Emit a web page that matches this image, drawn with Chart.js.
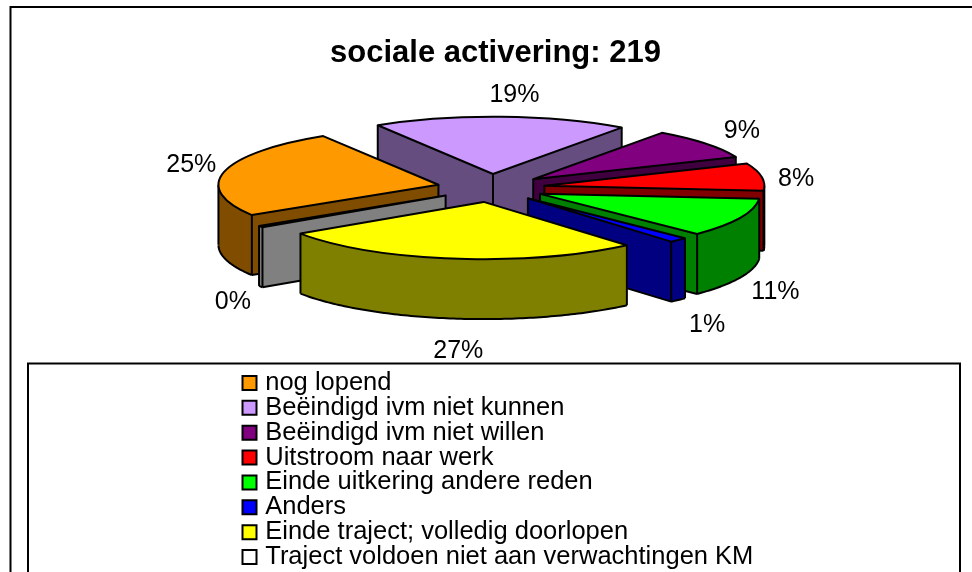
<!DOCTYPE html>
<html>
<head>
<meta charset="utf-8">
<script src="https://cdn.jsdelivr.net/npm/chart.js@4"></script>
<style>html,body{margin:0;padding:0;background:#fff;overflow:hidden}canvas{display:block}</style>
</head>
<body>
<canvas id="c" width="972" height="572"></canvas>
<script>
const titleText = 'sociale activering: 219';
const categories = ['nog lopend','Beëindigd ivm niet kunnen','Beëindigd ivm niet willen','Uitstroom naar werk','Einde uitkering andere reden','Anders','Einde traject; volledig doorlopen','Traject voldoen niet aan verwachtingen KM'];
const counts = [55,41,19,17,24,3,59,1];
const topColors = ['#ff9900','#cc99ff','#800080','#ff0000','#00ff00','#0000ff','#ffff00','#ffffff'];
const wallColors = ['#804d00','#664d80','#400040','#800000','#008000','#000080','#808000','#808080'];
const labelNudge = [[4,-3],[12,-6],[7,-2],[-3,5],[1,0],[3,5],[10,9],[4,-1]];

const FONT = 'Liberation Sans';
const CX = 491, CY = 188, RADIUS = 220, TILT = 0.26, DEPTH = 60, EXPLODE = 54;
const LABEL_R = 312, LABEL_TILT = 0.28, LABEL_DROP = 68;
const total = counts.reduce((a,b)=>a+b,0);

function geom(el){
  const mid = (el.startAngle + el.endAngle)/2;
  const k = RADIUS/el.outerRadius;
  const ox = Math.cos(mid)*EXPLODE, oy = Math.sin(mid)*EXPLODE;
  return {mid,k,ox,oy,
    pt(a,r,d){ return [CX+ox+Math.cos(a)*r, CY+(oy+Math.sin(a)*r)*TILT+d]; }};
}
function applyTransform(ctx,el,g,d){
  ctx.translate(CX+g.ox, CY+g.oy*TILT+d);
  ctx.scale(g.k, g.k*TILT);
  ctx.translate(-el.x,-el.y);
}
function drawWith(ctx,el,color){
  const saved = el.options;
  const o = Object.create(saved);
  o.backgroundColor = color; o.borderWidth = 0; o.offset = 0;
  el.options = o; el.draw(ctx); el.options = saved;
}
function seg(ctx,a,b){ ctx.beginPath(); ctx.moveTo(a[0],a[1]); ctx.lineTo(b[0],b[1]); ctx.stroke(); }
function quad(ctx,pts){ ctx.beginPath(); pts.forEach((p,i)=> i?ctx.lineTo(p[0],p[1]):ctx.moveTo(p[0],p[1])); ctx.closePath(); ctx.fill(); }

const pie3d = {
  id:'pie3d',
  beforeDatasetsDraw(chart){
    const ctx = chart.ctx, meta = chart.getDatasetMeta(0);
    const order = meta.data.map((el,i)=>({el,i,key:Math.sin((el.startAngle+el.endAngle)/2)}))
      .sort((a,b)=>a.key-b.key);
    ctx.save();
    ctx.lineJoin='round'; ctx.lineWidth=2; ctx.strokeStyle='#000';
    for(const {el,i} of order){
      const g = geom(el), s=el.startAngle, e=el.endAngle;
      for(let d=DEPTH;d>=1;d--){
        ctx.save(); applyTransform(ctx,el,g,d); drawWith(ctx,el,wallColors[i]); ctx.restore();
      }
      const apex = g.pt(0,0,0), apexB = g.pt(0,0,DEPTH);
      ctx.fillStyle = wallColors[i];
      quad(ctx,[apex,g.pt(s,RADIUS,0),g.pt(s,RADIUS,DEPTH),apexB]);
      quad(ctx,[apex,g.pt(e,RADIUS,0),g.pt(e,RADIUS,DEPTH),apexB]);
      // wall outlines
      const startVisible = -Math.cos(s)>0, endVisible = Math.cos(e)>0;
      if(startVisible){ seg(ctx,apexB,g.pt(s,RADIUS,DEPTH)); }
      if(endVisible){ seg(ctx,apexB,g.pt(e,RADIUS,DEPTH)); }
      if(startVisible||endVisible){ seg(ctx,apex,apexB); }
      if(startVisible||Math.sin(s)>0){ seg(ctx,g.pt(s,RADIUS,0),g.pt(s,RADIUS,DEPTH)); }
      if(endVisible||Math.sin(e)>0){ seg(ctx,g.pt(e,RADIUS,0),g.pt(e,RADIUS,DEPTH)); }
      for(const q of [0,Math.PI,2*Math.PI,3*Math.PI]){
        if(q>s&&q<e){ seg(ctx,g.pt(q,RADIUS,0),g.pt(q,RADIUS,DEPTH)); }
      }
      ctx.beginPath();
      let on=false;
      const n=Math.max(2,Math.ceil((e-s)*60));
      for(let j=0;j<=n;j++){
        const a=s+(e-s)*j/n;
        if(Math.sin(a)>=0){
          const p=g.pt(a,RADIUS,DEPTH);
          if(on) ctx.lineTo(p[0],p[1]); else ctx.moveTo(p[0],p[1]);
          on=true;
        } else on=false;
      }
      ctx.stroke();
      // top surface
      ctx.save(); applyTransform(ctx,el,g,0); drawWith(ctx,el,topColors[i]); ctx.restore();
      ctx.save(); applyTransform(ctx,el,g,0);
      ctx.beginPath(); ctx.moveTo(el.x,el.y); ctx.arc(el.x,el.y,el.outerRadius,s,e); ctx.closePath();
      ctx.restore();
      ctx.stroke();
    }
    // percentage labels
    ctx.fillStyle='#000'; ctx.font='25px "'+FONT+'"'; ctx.textAlign='center'; ctx.textBaseline='middle';
    meta.data.forEach((el,i)=>{
      const mid=(el.startAngle+el.endAngle)/2;
      const x=CX+Math.cos(mid)*LABEL_R+labelNudge[i][0];
      const y=CY+Math.sin(mid)*LABEL_R*LABEL_TILT+(Math.sin(mid)>0?LABEL_DROP:0)+labelNudge[i][1];
      ctx.fillText(Math.round(counts[i]/total*100)+'%',x,y);
    });
    ctx.restore();
    return false;
  },
  afterLayout(chart){
    const lg = chart.legend;
    lg.left=247.14; lg.top=370.89; lg.right=972; lg.bottom=780; lg.width=724; lg.height=409;
    lg.draw = function(){ lg._draw(); };
    const t = chart.titleBlock;
    t.left=19; t.right=972; t.width=953;
  },
  beforeDraw(chart){
    const ctx = chart.ctx;
    ctx.save();
    ctx.fillStyle='#fff'; ctx.fillRect(0,0,972,572);
    ctx.strokeStyle='#000'; ctx.lineWidth=2;
    ctx.beginPath(); ctx.moveTo(972,7); ctx.lineTo(10.5,7); ctx.lineTo(10.5,572); ctx.stroke();
    ctx.beginPath(); ctx.moveTo(28,572); ctx.lineTo(28,363.5); ctx.lineTo(960,363.5); ctx.lineTo(960,572); ctx.stroke();
    ctx.restore();
  }
};

new Chart(document.getElementById('c'),{
  type:'pie',
  data:{labels:categories,datasets:[{data:counts,backgroundColor:topColors,borderWidth:0}]},
  options:{
    responsive:false,animation:false,rotation:238,
    layout:{padding:0},
    font:{family:FONT},
    plugins:{
      tooltip:{enabled:false},
      title:{display:true,text:titleText,color:'#000',
        font:{family:FONT,size:31,weight:'bold',lineHeight:1.2},padding:{top:35,bottom:10}},
      legend:{display:true,position:'chartArea',align:'start',
        labels:{color:'#000',usePointStyle:true,boxWidth:6,boxHeight:14,padding:-0.64,font:{family:FONT,size:25.5},
          generateLabels(){return categories.map((t,i)=>({text:t,fillStyle:topColors[i],strokeStyle:'#000',lineWidth:2,hidden:false,index:i,pointStyle:'rect',rotation:0}));}}}
    }
  },
  plugins:[pie3d]
});
</script>
</body>
</html>
